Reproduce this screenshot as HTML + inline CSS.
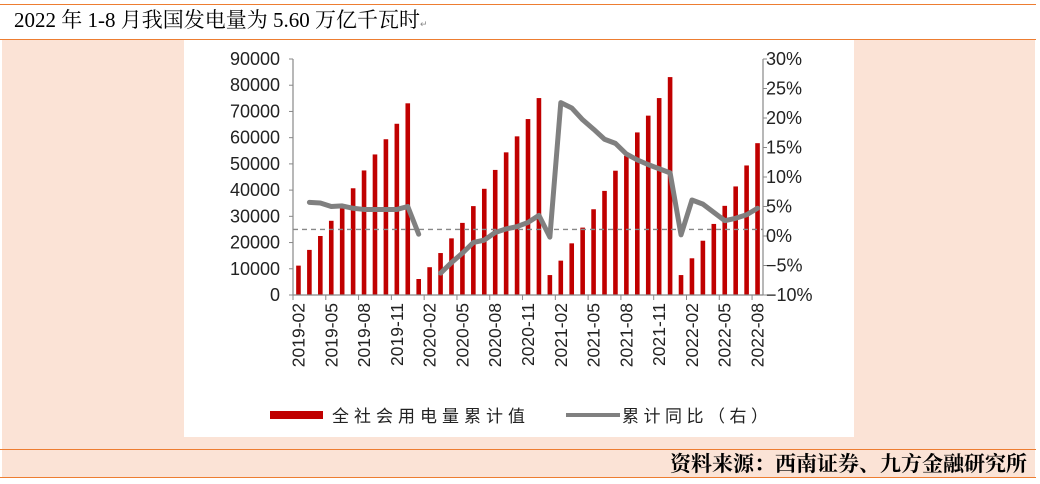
<!DOCTYPE html>
<html><head><meta charset="utf-8"><style>
body{margin:0;width:1040px;height:484px;background:#fff;position:relative;overflow:hidden;font-family:"Liberation Sans","Noto Sans CJK SC",sans-serif}
.abs{position:absolute}
</style></head><body>
<div class="abs" style="left:0;top:4px;width:1036px;height:1px;background:#ed7d31"></div>
<div class="abs" style="left:14px;top:6px;font-family:'Liberation Serif','Noto Serif CJK SC',serif;font-size:21px;line-height:28px;color:#000">2022 年 1-8 月我国发电量为 5.60 万亿千瓦时<span style="font-size:9px;color:#888">↵</span></div>
<div class="abs" style="left:0;top:39px;width:1036px;height:1px;background:#ed7d31"></div>
<div class="abs" style="left:2px;top:40px;width:1033px;height:409px;background:#fbe3d6"></div>
<div class="abs" style="left:0;top:449px;width:1036px;height:1px;background:#ed7d31"></div>
<div class="abs" style="left:2px;top:450px;width:1033px;height:27px;background:#fbe3d6"></div>
<div class="abs" style="right:13px;top:451px;font-family:'Liberation Serif','Noto Serif CJK SC',serif;font-size:21px;font-weight:bold;line-height:26px">资料来源：西南证券、九方金融研究所</div>
<div class="abs" style="left:0;top:477px;width:1036px;height:1px;background:#ed7d31"></div>
<svg class="abs" style="left:184px;top:40px" width="670" height="397" viewBox="184 40 670 397" id="chart">
<rect x="184" y="40" width="670" height="397" fill="#fff"/>
</svg>
<script>
const cats=[];for(let y=2019,m=2;!(y===2022&&m>8);){cats.push(y+'-'+String(m).padStart(2,'0'));m++;if(m>12){m=1;y++;}}
const barVals=[11200,17200,22500,28300,33700,40700,47500,53600,59400,65300,73100,
6100,10600,16000,21600,27500,33900,40500,47700,54400,60500,67100,75100,
7600,13100,19700,25700,32700,39700,47400,53100,62000,68400,75100,83100,
7600,14000,20700,27100,34000,41400,49400,57900];
const lineVals=[null,5.7,5.6,5.0,5.1,4.7,4.5,4.5,4.5,4.5,5.0,0.3,null,
-6.3,-4.5,-2.9,-1.1,-0.7,0.6,1.2,1.6,2.3,3.5,-0.2,22.6,21.7,19.7,18.1,16.4,15.7,13.9,12.9,12.1,11.4,10.7,0.2,6.1,5.4,4.0,2.6,3.0,3.6,4.7];
const leftTicks=[0,10000,20000,30000,40000,50000,60000,70000,80000,90000];
const rightTicks=[-10,-5,0,5,10,15,20,25,30];
const refValue=25000;
const NS='http://www.w3.org/2000/svg';
const svg=document.getElementById('chart');
const X0=293,X1=763,Y0=295,Y1=59;
const bw=(X1-X0)/cats.length;
const xc=i=>X0+bw*(i+0.5);
const yL=v=>Y0-(v/90000)*(Y0-Y1);
const yR=v=>Y0-((v+10)/40)*(Y0-Y1);
function el(t,a,p){const e=document.createElementNS(NS,t);for(const k in a)e.setAttribute(k,a[k]);(p||svg).appendChild(e);return e;}
barVals.forEach((v,i)=>{const r=el('rect',{x:xc(i)-2.3,y:yL(v),width:4.6,height:Y0-yL(v),fill:'#c00000'});

});
const d=el('line',{x1:X0,x2:X1,y1:yL(refValue),y2:yL(refValue),stroke:'#888','stroke-width':1.3,'stroke-dasharray':'5,4'});


const la=el('line',{x1:X0,x2:X0,y1:Y1,y2:Y0,stroke:'#888','stroke-width':1.2});


const ra=el('line',{x1:X1,x2:X1,y1:Y1,y2:Y0,stroke:'#888','stroke-width':1.2});


const xa=el('line',{x1:X0,x2:X1,y1:Y0,y2:Y0,stroke:'#888','stroke-width':1.2});


leftTicks.forEach(v=>{el('line',{x1:X0-4,x2:X0,y1:yL(v),y2:yL(v),stroke:'#888'});
const t=el('text',{x:X0-13,y:yL(v)+6,'text-anchor':'end','font-size':18,fill:'#222'});t.textContent=v;

});
rightTicks.forEach(v=>{el('line',{x1:X1,x2:X1+4,y1:yR(v),y2:yR(v),stroke:'#888'});
const t=el('text',{x:X1+3,y:yR(v)+6,'font-size':18,fill:'#222'});t.textContent=(v<0?'−':'')+Math.abs(v)+'%';

});
cats.forEach((c,i)=>{if(i%3===0){el('line',{x1:X0+bw*i,x2:X0+bw*i,y1:Y0,y2:Y0+5,stroke:'#888'});
const t=el('text',{x:0,y:0,'text-anchor':'end','font-size':17.5,fill:'#222',transform:`translate(${xc(i)+6},${Y0+8}) rotate(-90)`});t.textContent=c;

}});
let segs=[],cur=[];
lineVals.forEach((v,i)=>{if(v===null){if(cur.length)segs.push(cur);cur=[];}else cur.push([xc(i),yR(v)]);});
if(cur.length)segs.push(cur);
segs.forEach(s=>{const p=el('polyline',{points:s.map(q=>q.join(',')).join(' '),fill:'none',stroke:'#808080','stroke-width':5,'stroke-linejoin':'round','stroke-linecap':'round'});

});
const lr=el('rect',{x:270,y:411,width:53,height:8,fill:'#c00000'});


const lt=el('text',{x:332,y:422,'font-size':17,fill:'#222','letter-spacing':'5'});lt.textContent='全社会用电量累计值';


const ll=el('line',{x1:566,x2:620,y1:415,y2:415,stroke:'#808080','stroke-width':4});


const lt2=el('text',{x:622,y:422,'font-size':17,fill:'#222','letter-spacing':'4.5'});lt2.textContent='累计同比（右）';


</script>
</body></html>
